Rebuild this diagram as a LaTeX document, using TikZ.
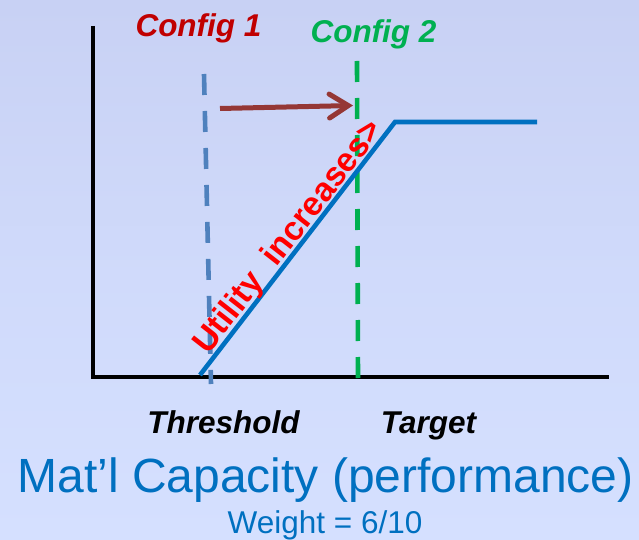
\documentclass[tikz,border=0pt]{standalone}
\usepackage{fontspec}
\setmainfont{Liberation Sans}
\usetikzlibrary{arrows.meta}
\definecolor{bgtop}{RGB}{200,209,244}
\definecolor{bgbot}{RGB}{213,224,255}
\definecolor{cfgred}{RGB}{192,0,0}
\definecolor{cfggreen}{RGB}{0,176,80}
\definecolor{curveblue}{RGB}{0,112,192}
\definecolor{steelblue}{RGB}{79,129,189}
\definecolor{shiftred}{RGB}{149,55,53}
\tikzset{
  axisline/.style={line width=4.5pt, black},
  marker/.style={line width=4.6pt, dash pattern=on 21pt off 16pt},
  label/.style={inner sep=0pt, anchor=base, font=\fontsize{31.5}{36}\selectfont\bfseries\itshape},
  caption/.style={inner sep=0pt, anchor=base, text=curveblue},
}
\begin{document}
\begin{tikzpicture}[x=1pt,y=-1pt]
  % page and background
  \useasboundingbox (0,0) rectangle (639,540);
  \shade[top color=bgtop, bottom color=bgbot, middle color=bgbot!60!bgtop] (0,0) rectangle (639,540);

  % axes
  \coordinate (ytop) at (93,26);
  \coordinate (origin) at (93,377);
  \coordinate (xend) at (609,377);
  \draw[axisline] (ytop) -- (93,379.25);
  \draw[axisline] (origin) -- (xend);

  % configuration markers
  \coordinate (c1top) at (204,74);
  \coordinate (c1bot) at (211,384);
  \coordinate (c2top) at (357,61);
  \coordinate (c2bot) at (358,382);
  \draw[marker, steelblue] (c1top) -- (c1bot);
  \draw[marker, cfggreen] (c2top) -- (c2bot);

  % utility curve
  \coordinate (ustart) at (200,375);
  \coordinate (uknee) at (395,122);
  \coordinate (uend) at (537,122);
  \draw[curveblue, line width=4.6pt, line join=miter] (ustart) -- (uknee) -- (uend);

  % shift from config 1 to config 2
  \coordinate (shfrom) at (220,108.5);
  \coordinate (shto) at (353,105.5);
  \draw[shiftred, line width=5pt,
        -{Straight Barb[length=19pt, width=24pt, line cap=round]}] (shfrom) -- (shto);

  % texts
  \node[label, text=cfgred] (cfg1) at (198.5,37) {Config 1};
  \node[label, text=cfggreen] (cfg2) at (373.5,43) {Config 2};
  \node[label, text=red, font=\fontsize{33.5}{40}\selectfont\bfseries, rotate=52]
       (util) at (296,243) {Utility\ \ increases>};
  \node[label, text=black] (thr) at (223.5,433) {Threshold};
  \node[label, text=black] (tgt) at (428.5,433) {Target};
  \node[caption, font=\fontsize{48}{56}\selectfont] (cap) at (325.5,492) {Mat’l Capacity (performance)};
  \node[caption, font=\fontsize{31.5}{36}\selectfont] (wt) at (325,533) {Weight = 6/10};
\end{tikzpicture}
\end{document}
